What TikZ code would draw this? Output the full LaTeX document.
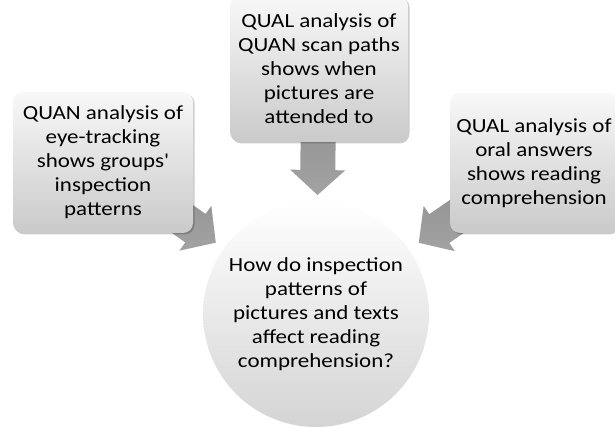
\documentclass[tikz,border=0pt]{standalone}
\usepackage{fontspec}
\setmainfont{Carlito}[FakeStretch=1.15,Ligatures=TeXOff]
\usetikzlibrary{calc,shadows}
\pgfdeclarelayer{bg}
\pgfsetlayers{bg,main}
\definecolor{boxtop}{RGB}{248,248,248}
\definecolor{boxbot}{RGB}{202,202,202}
\definecolor{arrtop}{RGB}{138,138,138}
\definecolor{arrbot}{RGB}{162,162,162}
\definecolor{circbot}{RGB}{212,212,212}
\newcommand\fatarrow[4]{%
  \path ($(#2.center)!#3!(#1.center)$) coordinate (T)
        ($(#2.center)!#4!(#1.center)$) coordinate (H);
  \path[arrowbody] (T) -- ($(H)!27.5pt!90:(T)$) -- ($(H)!17.5pt!90:(T)$)
     -- ($(#1.center)!17.5pt!90:(T)$) -- ($(#1.center)!17.5pt!-90:(T)$)
     -- ($(H)!17.5pt!-90:(T)$) -- ($(H)!27.5pt!-90:(T)$) -- cycle;%
}
\begin{document}
\begin{tikzpicture}[x=1pt,y=1pt,
  box/.style={rounded corners=10pt, top color=boxtop, bottom color=boxbot,
    align=center, inner sep=0pt, font=\fontsize{20}{24}\selectfont,
    drop shadow={shadow xshift=1.5pt, shadow yshift=-1.5pt, opacity=0.2, fill=black}},
  bigcirc/.style={circle, top color=white, bottom color=circbot, align=center,
    inner sep=0pt, minimum size=226pt, font=\fontsize{20}{24}\selectfont},
  arrowbody/.style={top color=arrtop, bottom color=arrbot, draw=none}]
\useasboundingbox (0,0) rectangle (615,427);
\node[box, minimum width=180pt, minimum height=141pt] (left) at (103,264.5)
  {QUAN analysis of\\eye-tracking\\shows groups'\\inspection\\patterns};
\node[box, minimum width=178pt, minimum height=146pt] (top) at (319,358)
  {QUAL analysis of\\QUAN scan paths\\shows when\\pictures are\\attended to};
\node[box, minimum width=168pt, minimum height=140pt] (right) at (534,264)
  {QUAL analysis of\\oral answers\\shows reading\\comprehension};
\node[bigcirc] (circ) at (316,113)
  {How do inspection\\patterns of\\pictures and texts\\affect reading\\comprehension?};
\begin{pgfonlayer}{bg}
  \fatarrow{top}{circ}{119pt}{144pt}
  \fatarrow{left}{circ}{123pt}{148pt}
  \fatarrow{right}{circ}{125pt}{150pt}
\end{pgfonlayer}
\end{tikzpicture}
\end{document}
